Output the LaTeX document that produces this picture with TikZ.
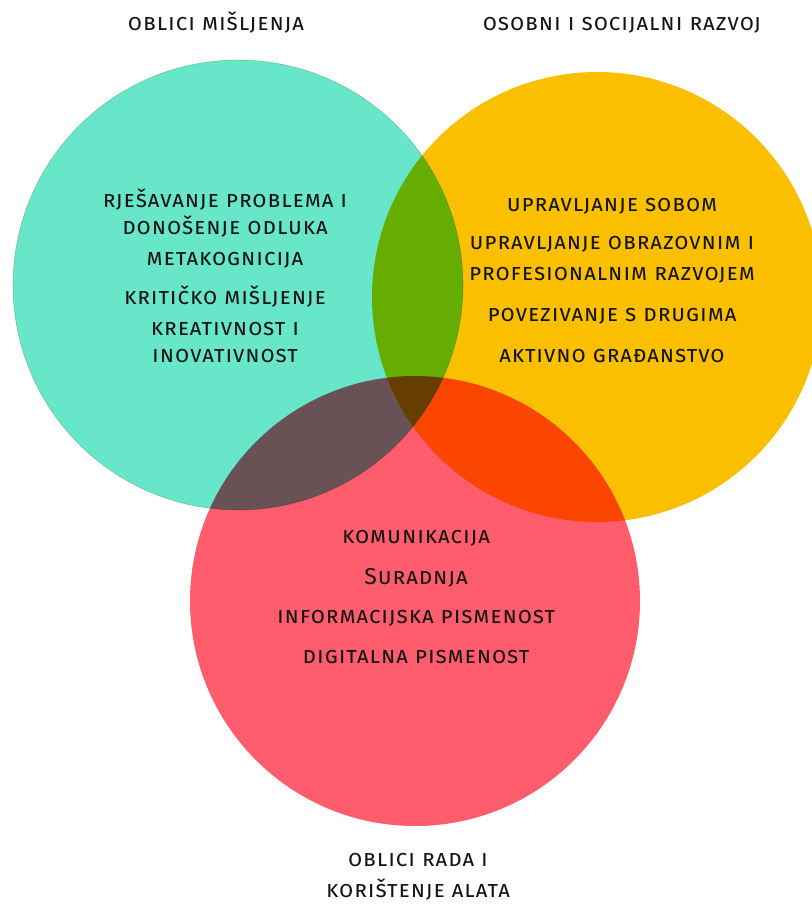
\documentclass[tikz,border=0pt]{standalone}
\usepackage{fontspec}
\setmainfont{Fira Sans}[LetterSpace=4]
\usetikzlibrary{positioning}

\definecolor{tirkiz}{RGB}{104,230,201}
\definecolor{naranca}{RGB}{250,192,0}
\definecolor{crvena}{RGB}{255,92,110}
\definecolor{rubkruga}{RGB}{190,215,175}
\definecolor{tekst}{RGB}{20,20,20}

\tikzset{
  stavka/.style={font=\fontsize{11.5}{13.5}\selectfont\scshape, text=tekst, align=center, inner sep=0pt},
  naslov/.style={stavka},
}

\begin{document}
\begin{tikzpicture}[x=0.5pt,y=-0.5pt,on grid]
  \useasboundingbox (0,0) rectangle (811,904);
  \coordinate (ct) at (238,285);
  \coordinate (co) at (597,297);
  \coordinate (cr) at (415,601);
  % krugovi
  \begin{scope}[blend group=multiply]
    \filldraw[fill=tirkiz, draw=rubkruga, line width=0.3pt] (ct) circle (225);
    \fill[naranca] (co) circle (225);
    \fill[crvena] (cr) circle (225);
  \end{scope}
  % naslovi
  \node[naslov] (mis) at (216,22) {oblici mišljenja};
  \node[naslov] (osr) at (622,25) {osobni i socijalni razvoj};
  \node[naslov] (ora) at (418,877) {oblici rada i\\[2pt] korištenje alata};
  % oblici mišljenja
  \node[stavka] (rje) at (225,212.5) {rješavanje problema i\\ donošenje odluka};
  \node[stavka] (met) [below=23.75pt of rje] {metakognicija};
  \node[stavka] (kri) [below=18pt of met] {kritičko mišljenje};
  \node[stavka] (kre) [below=23.25pt of kri] {kreativnost i\\ inovativnost};
  % osobni i socijalni razvoj
  \node[stavka] (sob) at (612,206) {upravljanje sobom};
  \node[stavka] (obr) [below=26.75pt of sob] {upravljanje obrazovnim i\\[2pt] profesionalnim razvojem};
  \node[stavka] (pov) [below=28.25pt of obr] {povezivanje s drugima};
  \node[stavka] (akt) [below=20pt of pov] {aktivno građanstvo};
  % oblici rada
  \node[stavka] (kom) at (416,538) {komunikacija};
  \node[stavka] (sur) [below=20pt of kom] {Suradnja};
  \node[stavka] (inf) [below=20pt of sur] {informacijska pismenost};
  \node[stavka] (dig) [below=19.5pt of inf] {digitalna pismenost};
\end{tikzpicture}
\end{document}
